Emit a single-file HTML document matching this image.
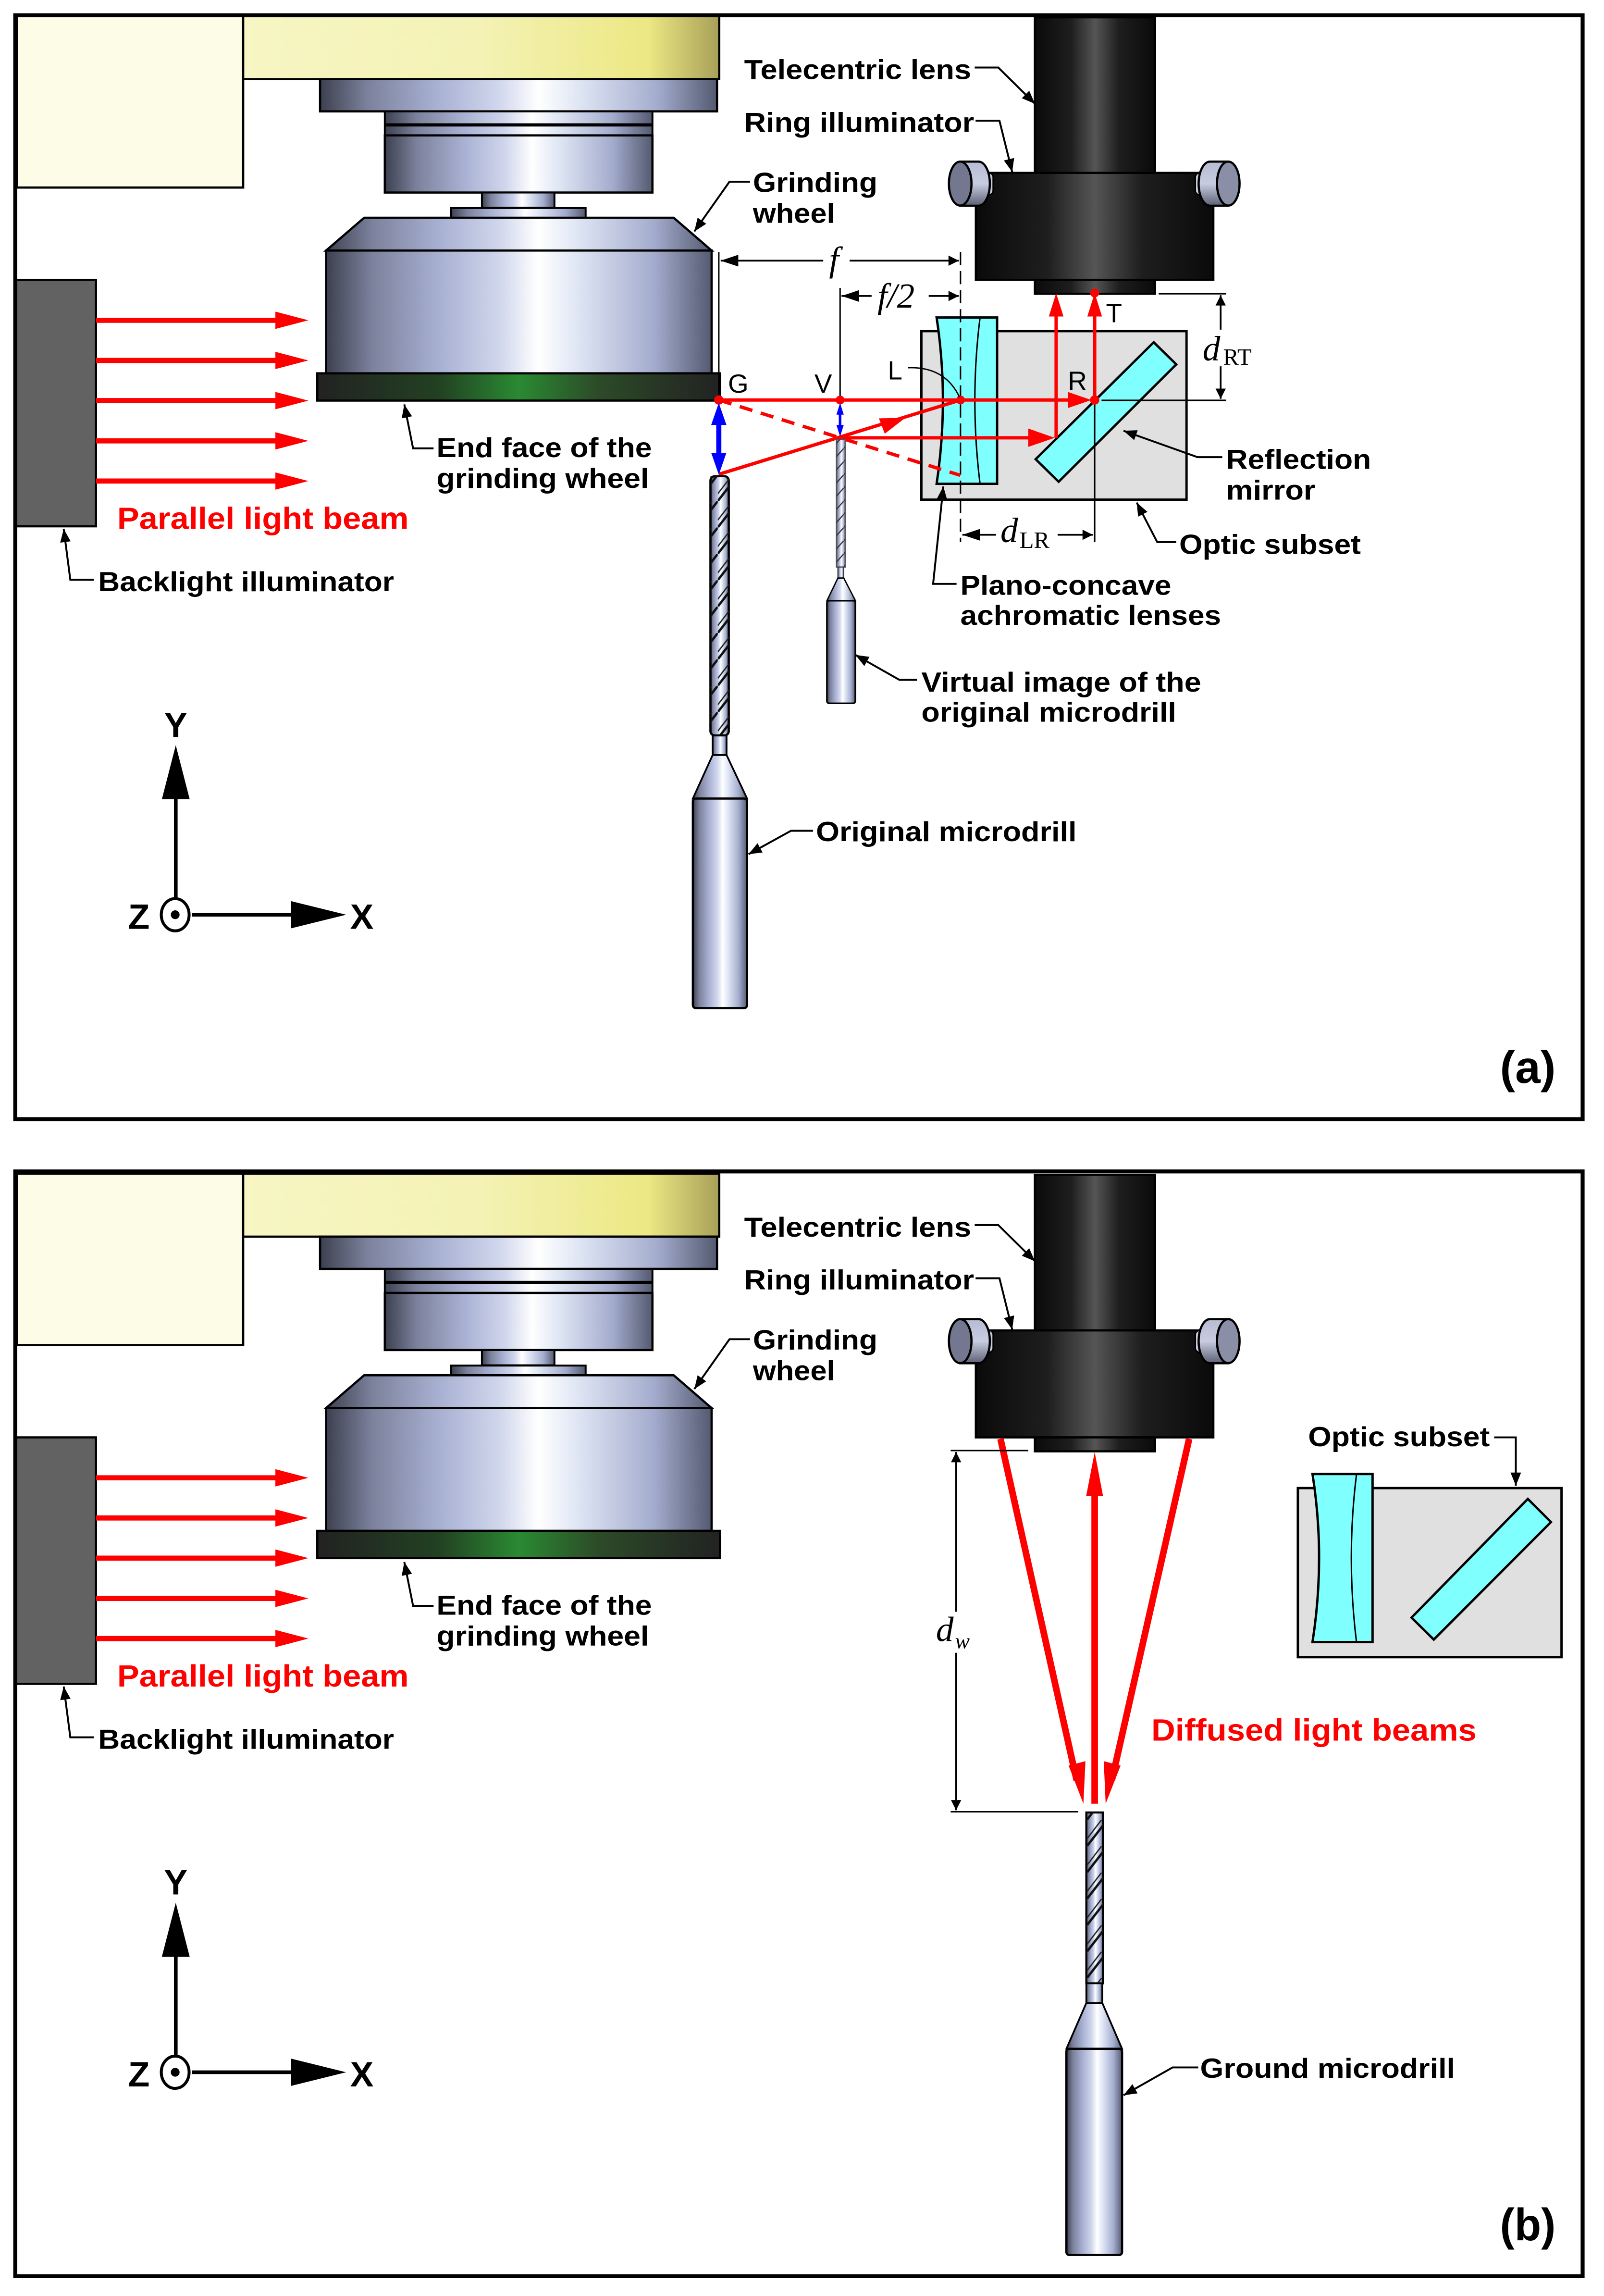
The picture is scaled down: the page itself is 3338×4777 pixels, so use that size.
<!DOCTYPE html>
<html><head><meta charset="utf-8"><style>html,body{margin:0;padding:0;background:#fff}svg{display:block}</style></head>
<body>
<svg xmlns="http://www.w3.org/2000/svg" width="3338" height="4777" viewBox="0 0 1095 1567" preserveAspectRatio="none">
<defs>
<linearGradient id="metal" x1="0" x2="1" y1="0" y2="0">
<stop offset="0" stop-color="#3c4050"/><stop offset="0.12" stop-color="#7c829c"/><stop offset="0.3" stop-color="#aab2d4"/><stop offset="0.45" stop-color="#d0d6ec"/><stop offset="0.55" stop-color="#ffffff"/><stop offset="0.65" stop-color="#dfe6f4"/><stop offset="0.85" stop-color="#a4acce"/><stop offset="1" stop-color="#545a70"/></linearGradient>
<linearGradient id="yel" x1="0" x2="1"><stop offset="0" stop-color="#f7f6c4"/><stop offset="0.5" stop-color="#f4f2b4"/><stop offset="0.85" stop-color="#ece884"/><stop offset="1" stop-color="#a8a058"/></linearGradient>
<linearGradient id="grn" x1="0" x2="1"><stop offset="0" stop-color="#222"/><stop offset="0.3" stop-color="#224022"/><stop offset="0.5" stop-color="#2a8a32"/><stop offset="0.7" stop-color="#2c4a28"/><stop offset="1" stop-color="#222"/></linearGradient>
<linearGradient id="blk" x1="0" x2="1"><stop offset="0" stop-color="#0a0a0a"/><stop offset="0.3" stop-color="#1e1e1e"/><stop offset="0.5" stop-color="#555"/><stop offset="0.7" stop-color="#1e1e1e"/><stop offset="1" stop-color="#0a0a0a"/></linearGradient>
<linearGradient id="knob" x1="0" x2="0" y1="0" y2="1"><stop offset="0" stop-color="#b8bcd4"/><stop offset="0.5" stop-color="#c8cce0"/><stop offset="1" stop-color="#5c6074"/></linearGradient>
<pattern id="flute" patternUnits="userSpaceOnUse" width="14" height="18"><line x1="0" y1="18" x2="14" y2="0" stroke="#111" stroke-width="1.6"/><line x1="0" y1="13" x2="10" y2="0" stroke="#222" stroke-width="0.9"/></pattern>
<pattern id="flute2" patternUnits="userSpaceOnUse" width="8" height="9"><line x1="0" y1="9" x2="8" y2="0" stroke="#333" stroke-width="0.8"/></pattern>
<marker id="ah" viewBox="0 0 10 10" refX="10" refY="5" markerWidth="9" markerHeight="9" markerUnits="userSpaceOnUse" orient="auto"><path d="M0,1 L10,5 L0,9 Z" fill="#000"/></marker>
<marker id="ahs" viewBox="0 0 10 10" refX="10" refY="5" markerWidth="12" markerHeight="7" markerUnits="userSpaceOnUse" orient="auto"><path d="M0,0 L10,5 L0,10 Z" fill="#000"/></marker>
</defs>
<style>
.lb{font-family:"Liberation Sans",sans-serif;font-weight:bold;font-size:19px;fill:#000}
.ax{font-family:"Liberation Sans",sans-serif;font-weight:bold;font-size:24px;fill:#000}
.pn{font-family:"Liberation Sans",sans-serif;font-weight:bold;font-size:31px;fill:#000}
.rd{font-family:"Liberation Sans",sans-serif;font-weight:bold;font-size:21px;fill:#f00}
.pt{font-family:"Liberation Sans",sans-serif;font-size:18px;fill:#000}
.it{font-family:"Liberation Serif",serif;font-style:italic;font-size:24px;fill:#000}
.sb{font-family:"Liberation Serif",serif;font-size:16px;fill:#000}
.ld{fill:none;stroke:#000;stroke-width:1.3}
</style>

<g id="machineA">
<rect x="11.5" y="11" width="154.5" height="117" fill="#fdfce6" stroke="#000" stroke-width="1.5"/>
<rect x="166" y="11" width="325" height="43" fill="url(#yel)" stroke="#000" stroke-width="1.5"/>
<rect x="218.5" y="54" width="271" height="22" fill="url(#metal)" stroke="#000" stroke-width="1.5"/>
<rect x="262.7" y="76" width="182.7" height="8.8" fill="url(#metal)" stroke="#000" stroke-width="1.3"/>
<rect x="262.7" y="85.7" width="182.7" height="6.7" fill="url(#metal)" stroke="#000" stroke-width="1.3"/>
<rect x="262.7" y="92.4" width="182.7" height="39" fill="url(#metal)" stroke="#000" stroke-width="1.5"/>
<rect x="329" y="131.4" width="49.5" height="10.4" fill="url(#metal)" stroke="#000" stroke-width="1.3"/>
<rect x="308" y="142" width="91.8" height="6.6" fill="url(#metal)" stroke="#000" stroke-width="1.3"/>
<polygon points="248.6,148.6 459.9,148.6 485.8,171 222.6,171" fill="url(#metal)" stroke="#000" stroke-width="1.5"/>
<rect x="222.6" y="171" width="263.2" height="83.8" fill="url(#metal)" stroke="#000" stroke-width="1.5"/>
<rect x="216.6" y="254.8" width="274.9" height="18.6" fill="url(#grn)" stroke="#000" stroke-width="1.5"/>
<rect x="11" y="191" width="54.5" height="168.2" fill="#626262" stroke="#000" stroke-width="1.5"/>
<g stroke="#f00" stroke-width="3.5">
<line x1="65.5" y1="218.6" x2="190" y2="218.6"/><line x1="65.5" y1="246" x2="190" y2="246"/><line x1="65.5" y1="273.4" x2="190" y2="273.4"/><line x1="65.5" y1="300.9" x2="190" y2="300.9"/><line x1="65.5" y1="328.3" x2="190" y2="328.3"/></g>
<g fill="#f00">
<polygon points="188,212.7 210.5,218.6 188,224.5"/><polygon points="188,240.1 210.5,246 188,251.9"/><polygon points="188,267.5 210.5,273.4 188,279.3"/><polygon points="188,295 210.5,300.9 188,306.8"/><polygon points="188,322.4 210.5,328.3 188,334.2"/></g>
<text class="rd" x="80" y="361" textLength="199" lengthAdjust="spacingAndGlyphs">Parallel light beam</text>
<polyline class="ld" points="64,395.7 48,395.7 43.5,361" marker-end="url(#ah)"/>
<text class="lb" x="67" y="403.5" textLength="202" lengthAdjust="spacingAndGlyphs">Backlight illuminator</text>
<rect x="706.5" y="11.8" width="82" height="106.2" fill="url(#blk)" stroke="#000" stroke-width="1.5"/>
<rect x="666.2" y="118" width="162.1" height="73" fill="url(#blk)" stroke="#000" stroke-width="1.5"/>
<rect x="706.5" y="191" width="82" height="9.5" fill="url(#blk)" stroke="#000" stroke-width="1.5"/>
<rect x="672" y="118" width="6" height="15" rx="3" fill="#c8cce0" stroke="#000" stroke-width="1"/>
<path d="M655.5,110.3 H668 A7.7,15 0 0 1 668,140.4 H655.5 Z" fill="url(#knob)" stroke="#000" stroke-width="1.5"/>
<ellipse cx="655.5" cy="125.3" rx="7.7" ry="15" fill="#737890" stroke="#000" stroke-width="1.5"/>
<rect x="816" y="118" width="6" height="15" rx="3" fill="#c8cce0" stroke="#000" stroke-width="1"/>
<path d="M838.5,110.3 H826 A7.7,15 0 0 0 826,140.4 H838.5 Z" fill="url(#knob)" stroke="#000" stroke-width="1.5"/>
<ellipse cx="838.5" cy="125.3" rx="7.7" ry="15" fill="#8a8ea6" stroke="#000" stroke-width="1.5"/>
<polyline class="ld" points="665.4,46.1 681.5,46.1 706.5,70.8" marker-end="url(#ah)"/>
<text class="lb" x="508" y="54" textLength="155" lengthAdjust="spacingAndGlyphs">Telecentric lens</text>
<polyline class="ld" points="666,82.4 682.3,82.4 691,117.4" marker-end="url(#ah)"/>
<text class="lb" x="508" y="90" textLength="157" lengthAdjust="spacingAndGlyphs">Ring illuminator</text>
<polyline class="ld" points="512,124 498,124 474,158" marker-end="url(#ah)"/>
<text class="lb" x="514" y="131" textLength="85" lengthAdjust="spacingAndGlyphs">Grinding</text>
<text class="lb" x="514" y="152" textLength="56" lengthAdjust="spacingAndGlyphs">wheel</text>
<polyline class="ld" points="296,306 282,306 276,276" marker-end="url(#ah)"/>
<text class="lb" x="298" y="312" textLength="147" lengthAdjust="spacingAndGlyphs">End face of the</text>
<text class="lb" x="298" y="333" textLength="145" lengthAdjust="spacingAndGlyphs">grinding wheel</text>
<line x1="120" y1="613" x2="120" y2="545" stroke="#000" stroke-width="2.5"/>
<polygon points="120,508.6 129.5,545.5 110.5,545.5" fill="#000"/>
<line x1="131" y1="624.3" x2="200" y2="624.3" stroke="#000" stroke-width="2.5"/>
<polygon points="236.3,624.3 198.7,615 198.7,633.6" fill="#000"/>
<ellipse cx="119.6" cy="624.3" rx="9.5" ry="11" fill="#fff" stroke="#000" stroke-width="2"/>
<circle cx="119.6" cy="624.3" r="3" fill="#000"/>
<text class="ax" x="120" y="503" text-anchor="middle">Y</text>
<text class="ax" x="87.5" y="634">Z</text>
<text class="ax" x="239" y="634">X</text>
</g>

<rect x="10.4" y="10.4" width="1070" height="753.4" fill="none" stroke="#000" stroke-width="2.7"/>
<rect x="629" y="226" width="181" height="115" fill="#e0e0e0" stroke="#000" stroke-width="1.6"/>
<path d="M639.4,216.7 H680.7 V330.2 H639.4 Q648,273 639.4,216.7 Z" fill="#80ffff" stroke="#000" stroke-width="1.6"/>
<path d="M669,217 Q662,273 669,330" fill="none" stroke="#000" stroke-width="1"/>
<polygon points="787.6,233.6 803,248.7 722.7,328.8 707,313.4" fill="#80ffff" stroke="#000" stroke-width="1.6"/>
<line x1="490.7" y1="273" x2="490.7" y2="172" stroke="#000" stroke-width="1"/>
<line x1="655.7" y1="172" x2="655.7" y2="370" stroke="#000" stroke-width="1" stroke-dasharray="9,4"/>
<line x1="573.5" y1="196.5" x2="573.5" y2="273" stroke="#000" stroke-width="1"/>
<line x1="492" y1="177.9" x2="562" y2="177.9" stroke="#000" stroke-width="1.2"/>
<line x1="580" y1="177.9" x2="654.5" y2="177.9" stroke="#000" stroke-width="1.2" marker-end="url(#ahs)"/>
<path d="M492,177.9 l12,-4 v8 z" fill="#000"/>
<text class="it" x="566" y="185">f</text>
<path d="M574.5,202 l12,-4 v8 z" fill="#000"/>
<line x1="574.5" y1="202" x2="595" y2="202" stroke="#000" stroke-width="1.2"/>
<line x1="634" y1="202" x2="654.5" y2="202" stroke="#000" stroke-width="1.2" marker-end="url(#ahs)"/>
<text class="it" x="599" y="210">f/2</text>
<line x1="747.3" y1="273" x2="747.3" y2="370" stroke="#000" stroke-width="1"/>
<path d="M657,365 l12,-4 v8 z" fill="#000"/>
<line x1="657" y1="365" x2="680" y2="365" stroke="#000" stroke-width="1.2"/>
<line x1="722" y1="365" x2="746" y2="365" stroke="#000" stroke-width="1.2" marker-end="url(#ahs)"/>
<text class="it" x="683" y="370">d</text><text class="sb" x="696" y="374">LR</text>
<line x1="791" y1="200.5" x2="837" y2="200.5" stroke="#000" stroke-width="1"/>
<line x1="752" y1="273.2" x2="837" y2="273.2" stroke="#000" stroke-width="1"/>
<line x1="833.3" y1="225" x2="833.3" y2="201.5" stroke="#000" stroke-width="1.2" marker-end="url(#ahs)"/>
<line x1="833.3" y1="250" x2="833.3" y2="272.2" stroke="#000" stroke-width="1.2" marker-end="url(#ahs)"/>
<text class="it" x="821" y="246">d</text><text class="sb" x="835" y="249">RT</text>
<g stroke="#f00" stroke-width="2.3" fill="none">
<line x1="490.7" y1="273" x2="735" y2="273"/>
<line x1="490.7" y1="323.7" x2="655.7" y2="273"/>
<line x1="573.5" y1="298.8" x2="710" y2="298.8"/>
<line x1="721" y1="298.8" x2="721" y2="212"/>
<line x1="747.3" y1="273" x2="747.3" y2="212"/>
<line x1="490.7" y1="273" x2="655.6" y2="324.4" stroke-dasharray="9,6"/>
</g>
<g fill="#f00">
<polygon points="745,273 729,267.5 729,278.5"/>
<polygon points="720,298.8 702,292.5 702,305"/>
<polygon points="721,200 716,216 726,216"/>
<polygon points="747.3,200 742.3,216 752.3,216"/>
<polygon points="618,285.2 600,285.5 604,296"/>
<circle cx="490.7" cy="273" r="3.2"/><circle cx="573.5" cy="273" r="3"/><circle cx="655.7" cy="273" r="3"/><circle cx="747.3" cy="273" r="3.2"/><circle cx="747.3" cy="200" r="3"/>
</g>
<line x1="490.7" y1="285" x2="490.7" y2="312" stroke="#00f" stroke-width="3.5"/>
<polygon points="490.7,275 485.5,290 495.9,290" fill="#00f"/><polygon points="490.7,324 485.5,309 495.9,309" fill="#00f"/>
<line x1="573.5" y1="280" x2="573.5" y2="292" stroke="#00f" stroke-width="1.8"/>
<polygon points="573.5,275 571,283 576,283" fill="#00f"/><polygon points="573.5,298 571,290 576,290" fill="#00f"/>
<text class="pt" x="497" y="268">G</text>
<text class="pt" x="556" y="268">V</text>
<text class="pt" x="606" y="259">L</text>
<text class="pt" x="729" y="266">R</text>
<text class="pt" x="755" y="220">T</text>
<path d="M620,251 Q645,250 655,271" fill="none" stroke="#000" stroke-width="0.9"/>
<rect x="485" y="325" width="12.5" height="177" rx="3" fill="url(#metal)" stroke="#000" stroke-width="1.5"/>
<rect x="485" y="325" width="12.5" height="177" fill="url(#flute)"/>
<rect x="486.5" y="502" width="9.5" height="13.3" fill="url(#metal)" stroke="#000" stroke-width="1.2"/>
<polygon points="486.5,515.3 496,515.3 510,545 473,545" fill="url(#metal)" stroke="#000" stroke-width="1.2"/>
<rect x="473" y="545" width="37" height="143" rx="2" fill="url(#metal)" stroke="#000" stroke-width="1.5"/>
<rect x="571" y="300" width="6" height="87" fill="url(#metal)" stroke="#555" stroke-width="0.8"/>
<rect x="571" y="300" width="6" height="87" fill="url(#flute2)"/>
<rect x="572" y="387" width="4" height="7.5" fill="url(#metal)" stroke="#333" stroke-width="0.7"/>
<polygon points="572,394.5 576,394.5 584,410 564.5,410" fill="url(#metal)" stroke="#000" stroke-width="0.9"/>
<rect x="564.5" y="410" width="19.4" height="70" rx="1.5" fill="url(#metal)" stroke="#000" stroke-width="1.1"/>
<polyline class="ld" points="834.4,312 817.5,312 767,294" marker-end="url(#ah)"/>
<text class="lb" x="837" y="320" textLength="99" lengthAdjust="spacingAndGlyphs">Reflection</text>
<text class="lb" x="837" y="341" textLength="61" lengthAdjust="spacingAndGlyphs">mirror</text>
<polyline class="ld" points="803,370 790,370 776,343" marker-end="url(#ah)"/>
<text class="lb" x="805" y="378" textLength="124" lengthAdjust="spacingAndGlyphs">Optic subset</text>
<polyline class="ld" points="653,398.5 637,398.5 644,332" marker-end="url(#ah)"/>
<text class="lb" x="655.6" y="406" textLength="144" lengthAdjust="spacingAndGlyphs">Plano-concave</text>
<text class="lb" x="655.6" y="426.5" textLength="178" lengthAdjust="spacingAndGlyphs">achromatic lenses</text>
<polyline class="ld" points="626,464 614,464 584,447" marker-end="url(#ah)"/>
<text class="lb" x="629" y="472" textLength="191" lengthAdjust="spacingAndGlyphs">Virtual image of the</text>
<text class="lb" x="629" y="492.5" textLength="174" lengthAdjust="spacingAndGlyphs">original microdrill</text>
<polyline class="ld" points="555,567 540,567 511,583" marker-end="url(#ah)"/>
<text class="lb" x="557" y="574" textLength="178" lengthAdjust="spacingAndGlyphs">Original microdrill</text>
<text class="pn" x="1024" y="739" textLength="38" lengthAdjust="spacingAndGlyphs">(a)</text>

<rect x="10.4" y="799.5" width="1070" height="754" fill="none" stroke="#000" stroke-width="2.7"/>
<use href="#machineA" transform="translate(0,790)"/>
<rect x="886" y="1015.6" width="180" height="115.4" fill="#e0e0e0" stroke="#000" stroke-width="1.6"/>
<path d="M896,1006 H937 V1120.7 H896 Q905,1063 896,1006 Z" fill="#80ffff" stroke="#000" stroke-width="1.6"/>
<path d="M926,1006.5 Q919,1063 926,1120.5" fill="none" stroke="#000" stroke-width="1"/>
<polygon points="1043,1023 1058.8,1038.8 978.8,1119 963.6,1104" fill="#80ffff" stroke="#000" stroke-width="1.6"/>
<polyline class="ld" points="1020,981 1034.8,981 1034.8,1014" marker-end="url(#ah)"/>
<text class="lb" x="893" y="987" textLength="124" lengthAdjust="spacingAndGlyphs">Optic subset</text>
<g stroke="#f00" stroke-width="4.5">
<line x1="683" y1="982" x2="735" y2="1215"/>
<line x1="811.8" y1="982" x2="759" y2="1215"/>
<line x1="747.3" y1="1231" x2="747.3" y2="1010"/>
</g>
<g fill="#f00">
<polygon points="739.6,1231 729.5,1205 741,1202"/>
<polygon points="754.8,1231 753.5,1202 765,1205"/>
<polygon points="747.3,991 741.5,1021 753,1021"/>
</g>
<text class="rd" x="786" y="1188" textLength="222" lengthAdjust="spacingAndGlyphs">Diffused light beams</text>
<line x1="649" y1="990" x2="702" y2="990" stroke="#000" stroke-width="1"/>
<line x1="649" y1="1236.5" x2="736" y2="1236.5" stroke="#000" stroke-width="1"/>
<line x1="652.7" y1="1100" x2="652.7" y2="991" stroke="#000" stroke-width="1.2" marker-end="url(#ahs)"/>
<line x1="652.7" y1="1128" x2="652.7" y2="1235.5" stroke="#000" stroke-width="1.2" marker-end="url(#ahs)"/>
<rect x="638" y="1101" width="30" height="26" fill="#fff"/>
<text class="it" x="639" y="1120">d</text><text class="it" x="652" y="1125" style="font-size:15px">w</text>
<rect x="741.6" y="1237" width="11.4" height="116.6" fill="url(#metal)" stroke="#000" stroke-width="1.4"/>
<rect x="741.6" y="1237" width="11.4" height="116.6" fill="url(#flute)"/>
<rect x="741.6" y="1353.6" width="10.9" height="13.4" fill="url(#metal)" stroke="#000" stroke-width="1.2"/>
<polygon points="741.6,1367 752.5,1367 766,1398.3 728,1398.3" fill="url(#metal)" stroke="#000" stroke-width="1.2"/>
<rect x="728" y="1398.3" width="38" height="140.7" rx="2" fill="url(#metal)" stroke="#000" stroke-width="1.5"/>
<polyline class="ld" points="818,1411 800.5,1411 767,1430" marker-end="url(#ah)"/>
<text class="lb" x="819.3" y="1418" textLength="174" lengthAdjust="spacingAndGlyphs">Ground microdrill</text>
<text class="pn" x="1024" y="1529" textLength="38" lengthAdjust="spacingAndGlyphs">(b)</text>
</svg>
</body></html>
